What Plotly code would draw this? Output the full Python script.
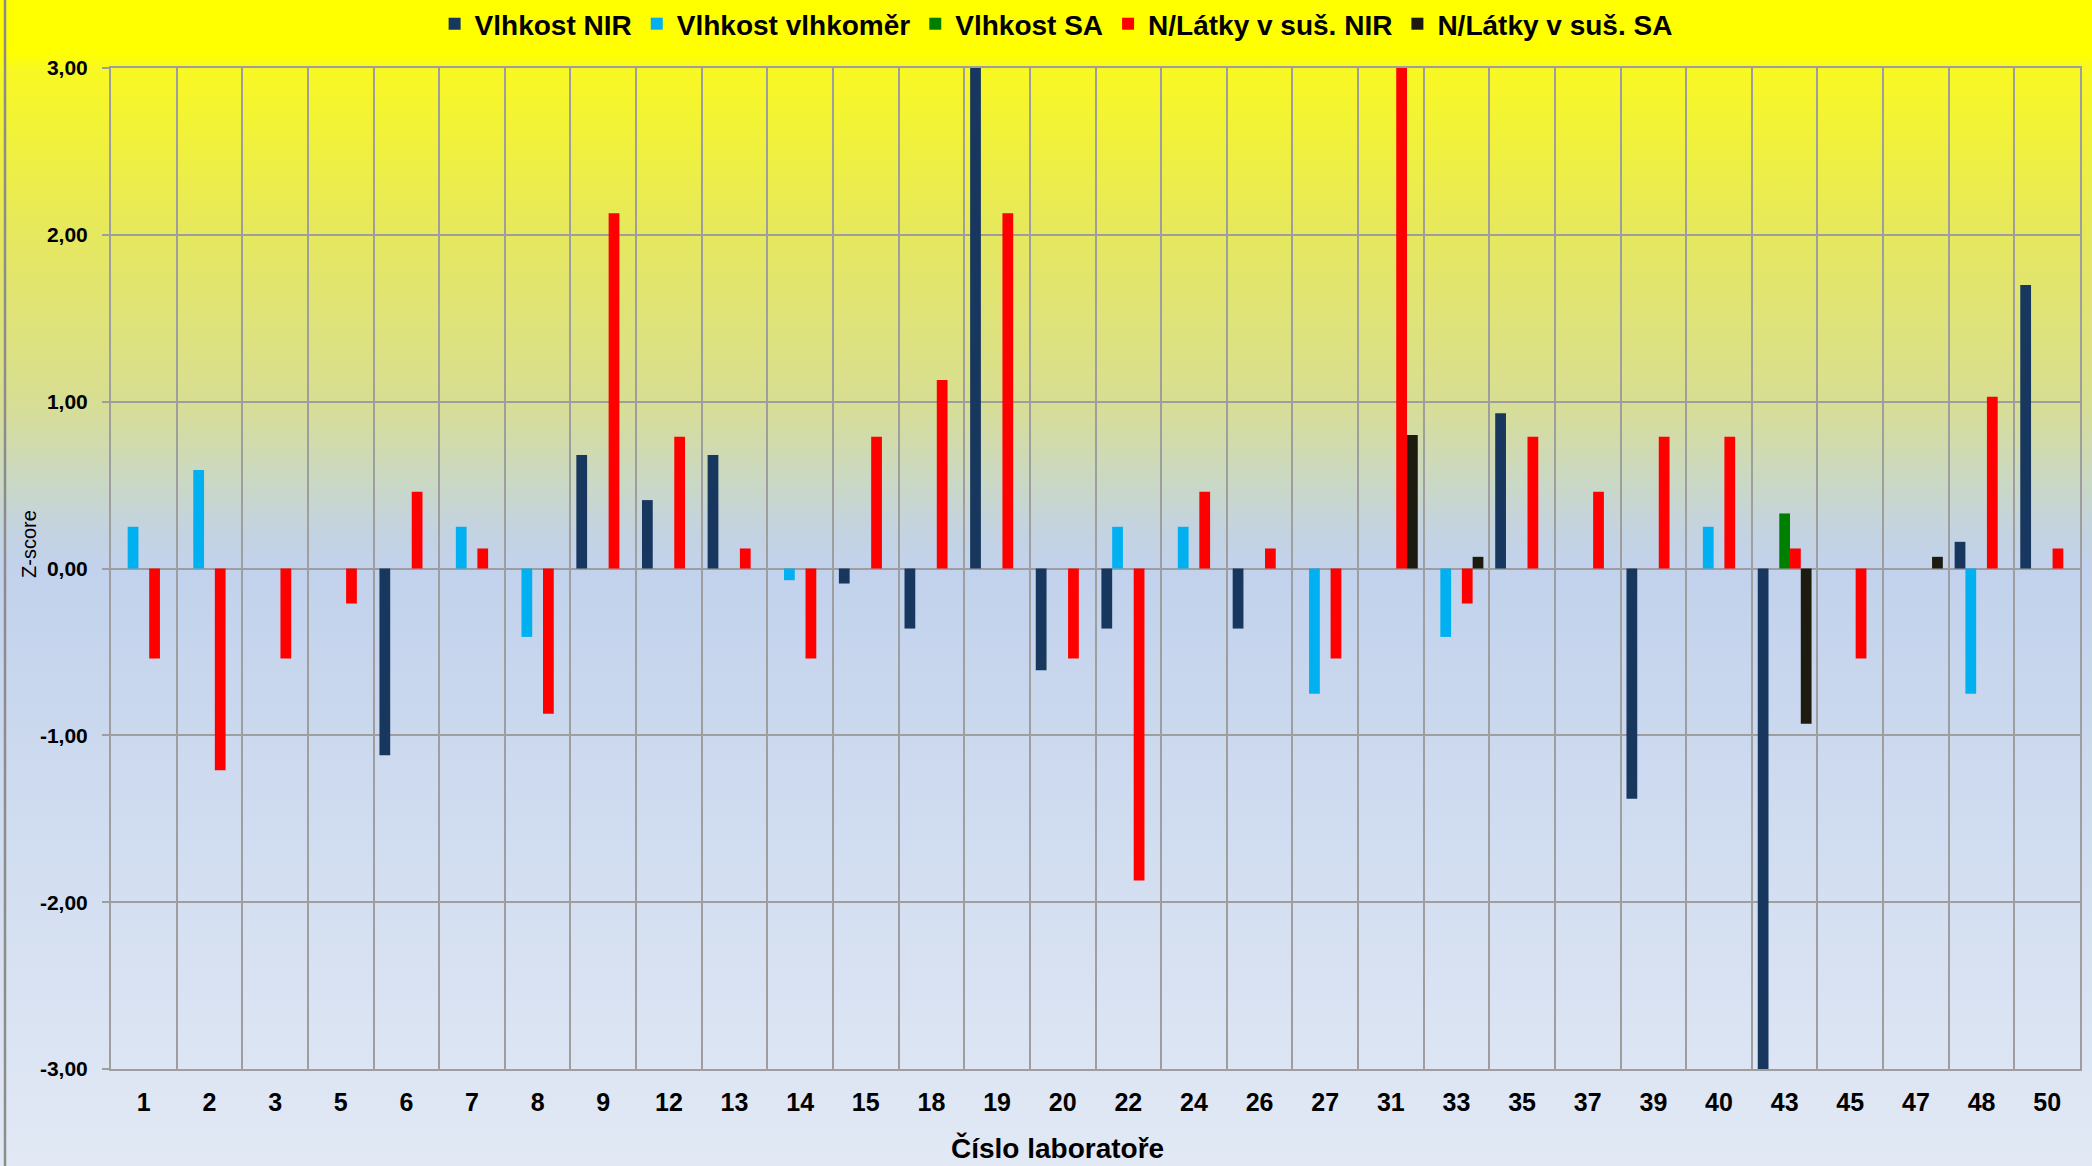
import base64

import plotly.graph_objects as go

labs = ["1", "2", "3", "5", "6", "7", "8", "9", "12", "13", "14", "15", "18", "19", "20",
        "22", "24", "26", "27", "31", "33", "35", "37", "39", "40", "43", "45", "47", "48", "50"]

vlhkost_nir = [None, None, None, None, -1.12, None, None, 0.68, 0.41, 0.68, None, -0.09, -0.36, 3.0, -0.61,
               -0.36, None, -0.36, None, None, None, 0.93, None, -1.38, None, -3.0, None, None, 0.16, 1.70]
vlhkost_vlhkomer = [0.25, 0.59, None, None, None, 0.25, -0.41, None, None, None, -0.07, None, None, None, None,
                    0.25, 0.25, None, -0.75, None, -0.41, None, None, None, 0.25, None, None, None, -0.75, None]
vlhkost_sa = [None, None, None, None, None, None, None, None, None, None, None, None, None, None, None,
              None, None, None, None, None, None, None, None, None, None, 0.33, None, None, None, None]
nl_nir = [-0.54, -1.21, -0.54, -0.21, 0.46, 0.12, -0.87, 2.13, 0.79, 0.12, -0.54, 0.79, 1.13, 2.13, -0.54,
          -1.87, 0.46, 0.12, -0.54, 3.0, -0.21, 0.79, 0.46, 0.79, 0.79, 0.12, -0.54, None, 1.03, 0.12]
nl_sa = [None, None, None, None, None, None, None, None, None, None, None, None, None, None, None,
         None, None, None, None, 0.80, 0.07, None, None, None, None, -0.93, None, 0.07, None, None]

y_ticks = [-3, -2, -1, 0, 1, 2, 3]
y_tick_labels = ["-3,00", "-2,00", "-1,00", "0,00", "1,00", "2,00", "3,00"]

series = [
    ("Vlhkost NIR", vlhkost_nir, "#17375E"),
    ("Vlhkost vlhkoměr", vlhkost_vlhkomer, "#00B0F0"),
    ("Vlhkost SA", vlhkost_sa, "#008000"),
    ("N/Látky v suš. NIR", nl_nir, "#FF0000"),
    ("N/Látky v suš. SA", nl_sa, "#1D1B10"),
]

W, H = 2092, 1166
L, R, T, B = 111, 12, 68, 97
PW, PH = W - L - R, H - T - B
FONT = "Liberation Sans, Arial, sans-serif"
GRID = "#9E9E9E"

# background gradient (yellow -> light blue), as an inline svg
stops = [(0, "#FFFF00"), (0.045, "#FFFF00"), (0.06, "#F8F822"), (0.20, "#E6E85E"),
         (0.343, "#D8DE92"), (0.415, "#CAD8C6"), (0.45, "#C4D3DE"), (0.486, "#C2D2EC"),
         (1, "#E2E9F5")]
stop_tags = "".join(f'<stop offset="{o}" stop-color="{c}"/>' for o, c in stops)
svg = (f'<svg xmlns="http://www.w3.org/2000/svg" width="{W}" height="{H}" preserveAspectRatio="none">'
       f'<defs><linearGradient id="g" x1="0" y1="0" x2="0" y2="1">{stop_tags}</linearGradient></defs>'
       f'<rect width="{W}" height="{H}" fill="url(#g)"/></svg>')
svg_uri = "data:image/svg+xml;base64," + base64.b64encode(svg.encode()).decode()

fig = go.Figure()
for name, values, color in series:
    fig.add_trace(go.Bar(x=labs, y=values, name=name, marker={"color": color, "line": {"width": 0}}))

fig.update_layout(
    width=W,
    height=H,
    margin={"l": L, "r": R, "t": T, "b": B, "autoexpand": False},
    barmode="group",
    bargap=0.18,
    bargroupgap=0,
    paper_bgcolor="#E2E9F5",
    plot_bgcolor="rgba(0,0,0,0)",
    font={"family": FONT, "color": "#000000"},
    legend={
        "orientation": "h",
        "x": 0.48,
        "xanchor": "center",
        "y": 1 + (T - 24) / PH,
        "yanchor": "middle",
        "font": {"size": 28, "weight": "bold"},
        "bgcolor": "rgba(0,0,0,0)",
        "itemwidth": 30,
        "traceorder": "normal",
    },
    images=[{
        "source": svg_uri,
        "xref": "paper",
        "yref": "paper",
        "x": -L / PW,
        "y": 1 + T / PH,
        "sizex": W / PW,
        "sizey": H / PH,
        "xanchor": "left",
        "yanchor": "top",
        "sizing": "stretch",
        "layer": "below",
    }],
    shapes=[{
        "type": "line",
        "xref": "paper",
        "yref": "paper",
        "x0": (5 - L) / PW,
        "x1": (5 - L) / PW,
        "y0": -B / PH,
        "y1": 1 + T / PH,
        "line": {"color": "#8C8C8C", "width": 2.5},
    }],
    annotations=[
        {
            "text": "Číslo laboratoře",
            "xref": "paper",
            "yref": "paper",
            "x": (1057 - L) / PW,
            "y": -(1148 - T - PH) / PH,
            "xanchor": "center",
            "yanchor": "middle",
            "showarrow": False,
            "font": {"size": 28, "weight": "bold"},
        },
        {
            "text": "Z-score",
            "xref": "paper",
            "yref": "paper",
            "x": (29 - L) / PW,
            "y": 1 - (544 - T) / PH,
            "xanchor": "center",
            "yanchor": "middle",
            "textangle": -90,
            "showarrow": False,
            "font": {"size": 20},
        },
    ],
)

fig.update_xaxes(
    type="category",
    tickson="boundaries",
    showgrid=True,
    gridcolor=GRID,
    gridwidth=1.5,
    showline=True,
    linecolor=GRID,
    linewidth=2,
    mirror=True,
    ticks="",
    ticklabelstandoff=10,
    tickfont={"size": 25, "weight": "bold"},
)
fig.update_yaxes(
    range=[-3, 3],
    tickvals=y_ticks,
    ticktext=y_tick_labels,
    showgrid=True,
    gridcolor=GRID,
    gridwidth=1.5,
    zeroline=False,
    showline=True,
    linecolor=GRID,
    linewidth=2,
    mirror=True,
    ticks="outside",
    ticklen=7,
    tickcolor=GRID,
    tickwidth=1.5,
    ticklabelstandoff=10,
    tickfont={"size": 21, "weight": "bold"},
)

fig.write_html(
    "out.html",
    config={"displayModeBar": False},
    post_script="document.body.style.margin = '0';",
)
